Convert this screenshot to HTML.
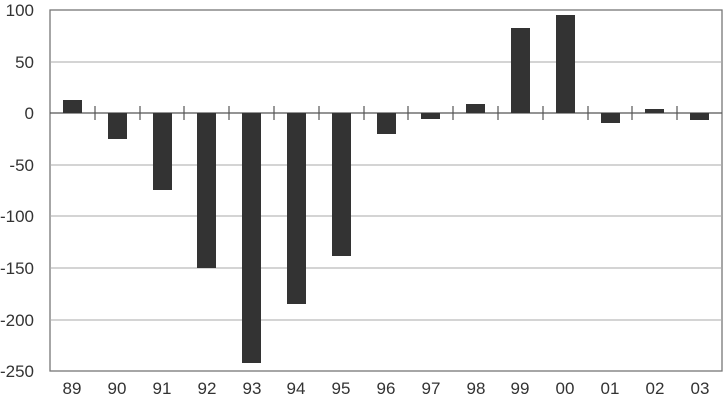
<!DOCTYPE html><html><head><style>body{margin:0;background:#fff}</style></head><body>
<svg width="723" height="411" xmlns="http://www.w3.org/2000/svg" font-family="Liberation Sans, sans-serif" font-size="17" fill="#333">
<rect x="50" y="10" width="672" height="361" fill="#fff" stroke="#777" stroke-width="1.3"/>
<g stroke="#aaa" stroke-width="1">
<line x1="50" y1="62" x2="722" y2="62"/><line x1="50" y1="165" x2="722" y2="165"/><line x1="50" y1="216" x2="722" y2="216"/><line x1="50" y1="268" x2="722" y2="268"/><line x1="50" y1="320" x2="722" y2="320"/>
</g>
<line x1="50" y1="113" x2="722" y2="113" stroke="#555" stroke-width="1.3"/>
<g text-anchor="end">
<text x="34" y="16">100</text><text x="34" y="68">50</text><text x="34" y="119">0</text><text x="34" y="171">-50</text><text x="34" y="222">-100</text><text x="34" y="274">-150</text><text x="34" y="326">-200</text><text x="34" y="377">-250</text>
</g>
<g fill="#333">
<rect x="63" y="100" width="19" height="13"/>
<rect x="108" y="113" width="19" height="26"/>
<rect x="153" y="113" width="19" height="77"/>
<rect x="197" y="113" width="19" height="155"/>
<rect x="242" y="113" width="19" height="250"/>
<rect x="287" y="113" width="19" height="191"/>
<rect x="332" y="113" width="19" height="143"/>
<rect x="377" y="113" width="19" height="21"/>
<rect x="421" y="113" width="19" height="6"/>
<rect x="466" y="104" width="19" height="9"/>
<rect x="511" y="28" width="19" height="85"/>
<rect x="556" y="15" width="19" height="98"/>
<rect x="601" y="113" width="19" height="10"/>
<rect x="645" y="109" width="19" height="4"/>
<rect x="690" y="113" width="19" height="7"/>
</g>
<g stroke="#555" stroke-width="1.2">
<line x1="95" y1="106" x2="95" y2="120"/><line x1="140" y1="106" x2="140" y2="120"/><line x1="184" y1="106" x2="184" y2="120"/><line x1="229" y1="106" x2="229" y2="120"/><line x1="274" y1="106" x2="274" y2="120"/><line x1="319" y1="106" x2="319" y2="120"/><line x1="364" y1="106" x2="364" y2="120"/><line x1="408" y1="106" x2="408" y2="120"/><line x1="453" y1="106" x2="453" y2="120"/><line x1="498" y1="106" x2="498" y2="120"/><line x1="543" y1="106" x2="543" y2="120"/><line x1="588" y1="106" x2="588" y2="120"/><line x1="632" y1="106" x2="632" y2="120"/><line x1="677" y1="106" x2="677" y2="120"/>
</g>
<g text-anchor="middle">
<text x="72" y="394">89</text><text x="117" y="394">90</text><text x="162" y="394">91</text><text x="207" y="394">92</text><text x="252" y="394">93</text><text x="296" y="394">94</text><text x="341" y="394">95</text><text x="386" y="394">96</text><text x="431" y="394">97</text><text x="476" y="394">98</text><text x="520" y="394">99</text><text x="565" y="394">00</text><text x="610" y="394">01</text><text x="655" y="394">02</text><text x="700" y="394">03</text>
</g>
</svg>
</body></html>
